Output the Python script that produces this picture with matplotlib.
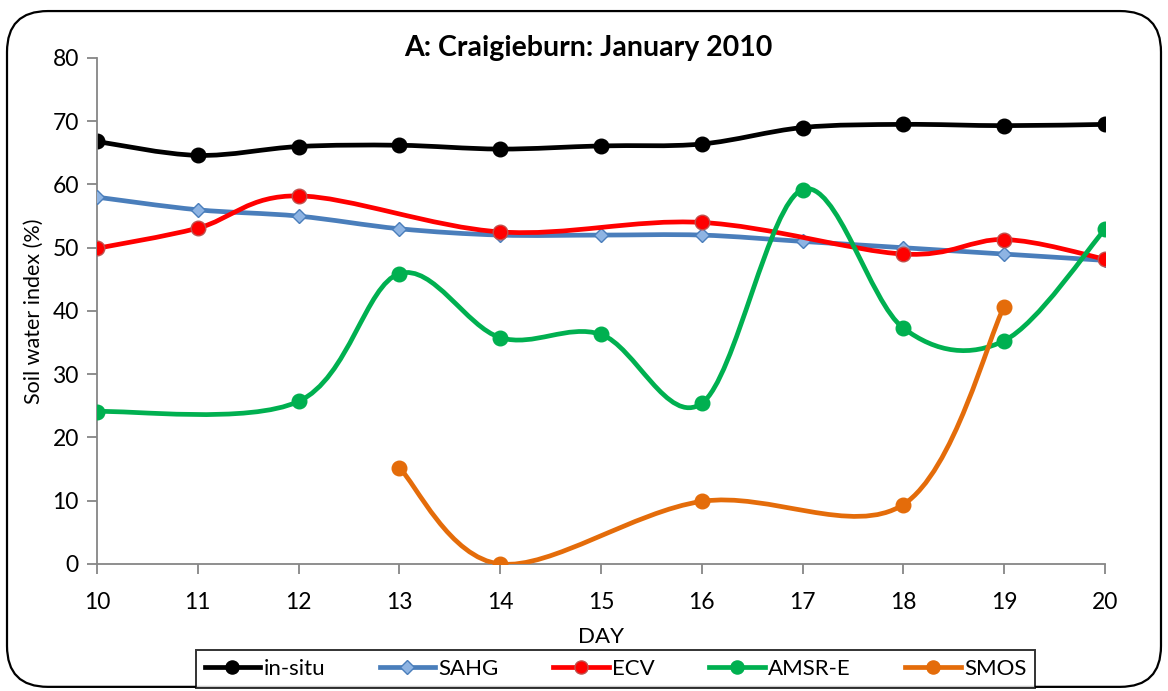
import numpy as np
import matplotlib.pyplot as plt
from matplotlib.path import Path
from matplotlib.patches import PathPatch, FancyBboxPatch
from matplotlib.lines import Line2D

plt.rcParams['font.family'] = ['Lato', 'DejaVu Sans']

#%% data (nan = no value that day)
days = [10, 11, 12, 13, 14, 15, 16, 17, 18, 19, 20]
nan = np.nan
insitu = [66.8, 64.6, 66.0, 66.2, 65.6, 66.1, 66.4, 69.0, 69.5, 69.3, 69.5]
sahg = [58.0, 56.0, 55.0, 53.0, 52.0, 52.0, 52.0, 51.0, 50.0, 49.0, 48.0]
ecv = [49.9, 53.1, 58.2, nan, 52.5, nan, 54.0, nan, 49.0, 51.3, 48.2]
amsre = [24.1, nan, 25.7, 45.9, 35.8, 36.3, 25.4, 59.2, 37.3, 35.3, 52.9]
smos = [nan, nan, nan, 15.2, 0.0, nan, 9.9, nan, 9.4, 40.7, nan]

names = ["in-situ", "SAHG", "ECV", "AMSR-E", "SMOS"]
series = [insitu, sahg, ecv, amsre, smos]

#%% styles
colors = ["#000000", "#4A7EBB", "#FF0000", "#00B050", "#E46C0A"]
markers = ["o", "D", "o", "o", "o"]
mfaces = ["#000000", "#8EB4E3", "#FF0000", "#00B050", "#E46C0A"]
medges = ["#000000", "#4A7EBB", "#C0504D", "#00B050", "#E46C0A"]
msizes = [10.5, 7.5, 10.5, 10.5, 10.5]


def smooth_path(x, y):
    # excel style smoothed line: bezier segments through the points
    x = np.asarray(x, float)
    y = np.asarray(y, float)
    ok = ~np.isnan(y)
    p = np.column_stack([x[ok], y[ok]])
    n = len(p)
    verts = [p[0]]
    codes = [Path.MOVETO]
    for i in range(n - 1):
        p0 = p[i - 1] if i > 0 else p[i]
        p3 = p[i + 2] if i + 2 < n else p[i + 1]
        c1 = p[i] + (p[i + 1] - p0) / 6.0
        c2 = p[i + 1] - (p3 - p[i]) / 6.0
        verts += [c1, c2, p[i + 1]]
        codes += [Path.CURVE4] * 3
    return Path(verts, codes)


fig = plt.figure(figsize=(11.68, 6.91), dpi=100)
ax = fig.add_axes([0.083, 0.1838, 0.863, 0.7323])

for i in range(len(series)):
    pth = smooth_path(days, series[i])
    ax.add_patch(PathPatch(pth, facecolor="none", edgecolor=colors[i], lw=3.4,
                           capstyle="round", joinstyle="round", zorder=2 + i))
    ax.plot(days, series[i], ls="none", marker=markers[i], ms=msizes[i],
            mfc=mfaces[i], mec=medges[i], mew=1.0, zorder=2 + i + 0.5)

ax.set_xlim(10, 20)
ax.set_ylim(0, 80)
ax.set_xticks(days)
ax.set_yticks(range(0, 81, 10))
for s in ["top", "right"]:
    ax.spines[s].set_visible(False)
for s in ["left", "bottom"]:
    ax.spines[s].set_color("#868686")
    ax.spines[s].set_linewidth(1.3)
ax.tick_params(axis="both", colors="#868686", labelcolor="black",
               labelsize=16.5, length=7, width=1.3, direction="out")
ax.tick_params(axis="x", pad=13)
ax.tick_params(axis="y", pad=6)

ax.set_xlabel("DAY", fontsize=16)
ax.xaxis.set_label_coords(0.5, -0.125)
ax.set_ylabel("Soil water index (%)", fontsize=15.5)
ax.yaxis.set_label_coords(-0.053, 0.5)

fig.text(0.504, 0.93, "A: Craigieburn: January 2010", ha="center",
         va="center", fontsize=20.5, fontweight="bold")

# rounded outer frame
frame = FancyBboxPatch((0.006, 0.006), 0.988, 0.978,
                       boxstyle="round,pad=0,rounding_size=0.035",
                       transform=fig.transFigure, fill=False,
                       ec="black", lw=1.6, zorder=0,
                       mutation_aspect=1168 / 691)
fig.patches.append(frame)

handles = []
for i in range(len(series)):
    handles.append(Line2D([], [], color=colors[i], lw=3.4, marker=markers[i],
                          ms=msizes[i] * 0.9, mfc=mfaces[i], mec=medges[i]))
leg = fig.legend(handles, names, loc="center", bbox_to_anchor=(0.527, 0.032),
                 ncol=5, fontsize=16, frameon=True, fancybox=False,
                 edgecolor="black", handlelength=2.5, handletextpad=0.15,
                 columnspacing=2.45, borderpad=0.4)
leg.get_frame().set_linewidth(1.4)

plt.savefig("out.png", dpi=100)
